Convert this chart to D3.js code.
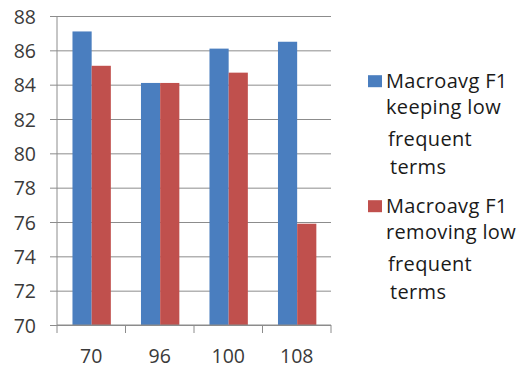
<!DOCTYPE html>
<html>
<head>
<meta charset="utf-8">
<script src="https://cdn.jsdelivr.net/npm/d3@7"></script>
<style>
  html, body { margin: 0; padding: 0; background: #fff; }
  svg { display: block; }
</style>
</head>
<body>
<svg id="chart" width="520" height="370"></svg>
<script>
// Vocabulary size settings on the x axis
const categories = ["70", "96", "100", "108"];
// Macro-averaged F1 for each setting
const keepingLow = [87.1, 84.1, 86.1, 86.5];
const removingLow = [85.1, 84.1, 84.7, 75.9];
const yTicks = [70, 72, 74, 76, 78, 80, 82, 84, 86, 88];
const seriesNames = ["keeping", "removing"];
const legendLines = [
  ["Macroavg F1", "keeping low", "frequent", "terms"],
  ["Macroavg F1", "removing low", "frequent", "terms"]
];
const colors = ["#4a7ebf", "#c0504d"];

const svg = d3.select("#chart");
const plot = { left: 57, right: 331, top: 16, bottom: 325 };

const x = d3.scaleBand().domain(categories).range([plot.left, plot.right]).padding(0);
const bw = x.bandwidth();
const xInner = d3.scaleBand().domain(seriesNames).range([bw * 0.226, bw * 0.786]).padding(0);
const y = d3.scaleLinear().domain([70, 88]).range([plot.bottom, plot.top]);

const gridColor = "#8c8c8c";
const labelFont = "'Open Sans', sans-serif";

// Horizontal gridlines, with short outward ticks on the value axis
const yAxis = d3.axisLeft(y)
  .tickValues(yTicks)
  .tickSize(-(plot.right - plot.left))
  .tickPadding(14)
  .tickFormat(d3.format("d"));

const gy = svg.append("g")
  .attr("transform", `translate(${plot.left},0)`)
  .call(yAxis);
gy.select(".domain").remove();
gy.selectAll(".tick line")
  .attr("x1", -7)
  .attr("stroke", gridColor)
  .attr("stroke-width", 1);
gy.selectAll(".tick text")
  .attr("x", -21)
  .attr("dy", "0.36em")
  .attr("fill", "#3a3a3a")
  .style("font-family", labelFont)
  .style("font-size", "19.5px");

// Vertical value-axis line
svg.append("line")
  .attr("x1", plot.left).attr("x2", plot.left)
  .attr("y1", plot.top).attr("y2", plot.bottom)
  .attr("stroke", gridColor).attr("stroke-width", 1);

// Bars
const data = categories.map((c, i) => ({ cat: c, vals: [keepingLow[i], removingLow[i]] }));
const groups = svg.append("g").selectAll("g")
  .data(data)
  .join("g")
  .attr("transform", d => `translate(${x(d.cat)},0)`);

groups.selectAll("rect")
  .data(d => d.vals.map((v, k) => ({ key: seriesNames[k], v, k })))
  .join("rect")
  .attr("x", d => xInner(d.key))
  .attr("width", xInner.bandwidth())
  .attr("y", d => y(d.v))
  .attr("height", d => y(70) - y(d.v))
  .attr("fill", d => colors[d.k]);

// Category axis with tick marks on the band boundaries
const xAxis = d3.axisBottom(x).tickSize(0).tickPadding(0);
const gx = svg.append("g")
  .attr("transform", `translate(0,${plot.bottom})`)
  .call(xAxis);
gx.select(".domain")
  .attr("d", `M${plot.left},0H${plot.right}`)
  .attr("stroke", gridColor);
gx.selectAll(".tick text")
  .attr("y", 38)
  .attr("dy", 0)
  .attr("fill", "#3a3a3a")
  .style("font-family", labelFont)
  .style("font-size", "19.5px");

const boundaries = categories.map(c => x(c)).concat([x(categories[categories.length - 1]) + bw]);
gx.selectAll(".bound")
  .data(boundaries)
  .join("line")
  .attr("class", "bound")
  .attr("x1", d => d).attr("x2", d => d)
  .attr("y1", 0).attr("y2", 8)
  .attr("stroke", gridColor);

// Legend
const legendTops = [87.7, 212.7];
const lineOffsets = [0, 26, 58, 86];
const indent = [0, 0, 2, 4];
legendLines.forEach((lines, i) => {
  const g = svg.append("g");
  g.append("rect")
    .attr("x", 368).attr("y", legendTops[i] - 12.5)
    .attr("width", 14).attr("height", 12)
    .attr("fill", colors[i]);
  lines.forEach((t, j) => {
    g.append("text")
      .attr("x", 386 + indent[j])
      .attr("y", legendTops[i] + lineOffsets[j])
      .attr("fill", "#1a1a1a")
      .style("font-family", labelFont)
      .style("font-size", "20px")
      .style("letter-spacing", "0.35px")
      .text(t);
  });
});
</script>
</body>
</html>
